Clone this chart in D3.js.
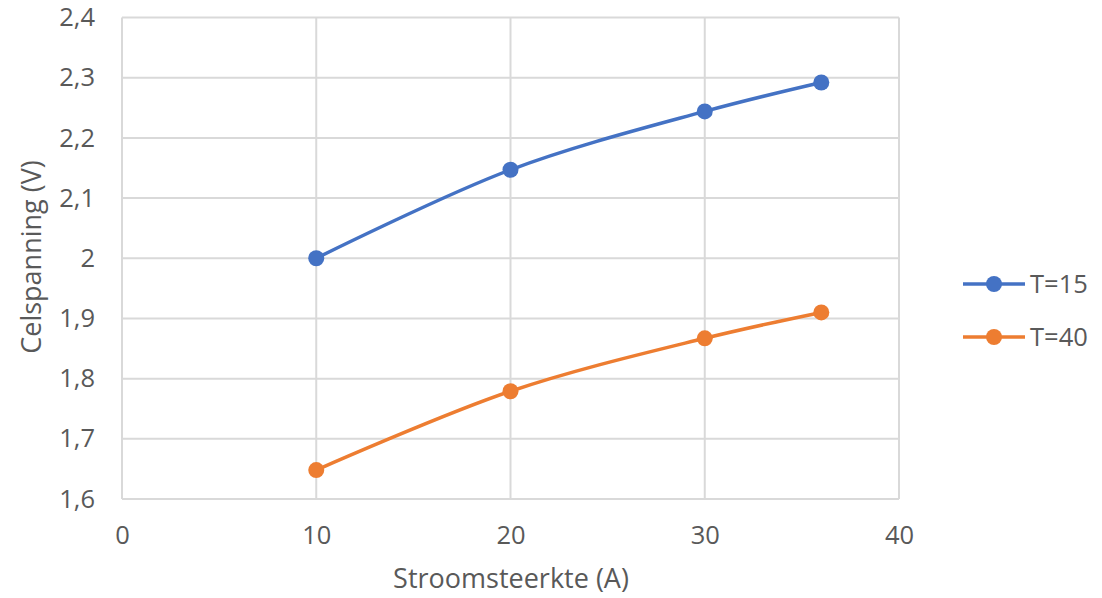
<!DOCTYPE html>
<html>
<head>
<meta charset="utf-8">
<script src="https://cdn.jsdelivr.net/npm/d3@7"></script>
<style>
  html, body { margin: 0; padding: 0; background: #fff; }
  svg text { font-family: "Open Sans", "Noto Sans", sans-serif; fill: #595959; }
</style>
</head>
<body>
<svg id="chart" width="1102" height="598"></svg>
<script>
const xValues = [10, 20, 30, 36];
const seriesNames = ["T=15", "T=40"];
const seriesT15 = [2.0, 2.147, 2.244, 2.292];
const seriesT40 = [1.648, 1.779, 1.867, 1.910];
const seriesColors = ["#4472C4", "#ED7D31"];
const xTicks = [0, 10, 20, 30, 40];
const yTicks = [1.6, 1.7, 1.8, 1.9, 2.0, 2.1, 2.2, 2.3, 2.4];
const xTitle = "Stroomsteerkte (A)";
const yTitle = "Celspanning (V)";

const svg = d3.select("#chart");
const plot = { left: 122, right: 899, top: 17.5, bottom: 499 };
const tickFont = 25.5;
const titleFont = 27;
const legendFont = 25.5;

const x = d3.scaleLinear().domain([0, 40]).range([plot.left, plot.right]);
const y = d3.scaleLinear().domain([1.6, 2.4]).range([plot.bottom, plot.top]);
const fmt = v => d3.format("~g")(+v.toFixed(1)).replace(".", ",");

// gridlines
const gridColor = "#d9d9d9";
svg.append("g").selectAll("line").data(yTicks).join("line")
  .attr("x1", plot.left).attr("x2", plot.right)
  .attr("y1", d => y(d)).attr("y2", d => y(d))
  .attr("stroke", gridColor).attr("stroke-width", 2);
svg.append("g").selectAll("line").data(xTicks).join("line")
  .attr("y1", plot.top).attr("y2", plot.bottom)
  .attr("x1", d => x(d)).attr("x2", d => x(d))
  .attr("stroke", gridColor).attr("stroke-width", 2);

// axes (labels only)
const yAxis = d3.axisLeft(y).tickValues(yTicks).tickSize(0).tickPadding(27).tickFormat(fmt);
const gy = svg.append("g").attr("transform", `translate(${plot.left},0)`).call(yAxis);
gy.select(".domain").remove();
gy.selectAll("text").attr("font-size", tickFont).style("font-family", null);

const xAxis = d3.axisBottom(x).tickValues(xTicks).tickSize(0).tickPadding(27).tickFormat(d3.format("d"));
const gx = svg.append("g").attr("transform", `translate(0,${plot.bottom})`).call(xAxis);
gx.select(".domain").remove();
gx.selectAll("text").attr("font-size", tickFont).style("font-family", null);

// axis titles
svg.append("text").attr("x", 511).attr("y", 588)
  .attr("text-anchor", "middle").attr("font-size", titleFont).text(xTitle);
svg.append("text").attr("transform", `translate(41,257) rotate(-90)`)
  .attr("text-anchor", "middle").attr("font-size", titleFont).text(yTitle);

// series
const allSeries = [seriesT15, seriesT40];
const line = d3.line().x((d, i) => x(xValues[i])).y(d => y(d)).curve(d3.curveCatmullRom.alpha(0.5));
allSeries.forEach((vals, si) => {
  svg.append("path").datum(vals).attr("d", line)
    .attr("fill", "none").attr("stroke", seriesColors[si]).attr("stroke-width", 3.5)
    .attr("stroke-linecap", "round");
  svg.append("g").selectAll("circle").data(vals).join("circle")
    .attr("cx", (d, i) => x(xValues[i])).attr("cy", d => y(d)).attr("r", 8)
    .attr("fill", seriesColors[si]);
});

// legend
const legendY = [284, 337];
seriesNames.forEach((name, si) => {
  const g = svg.append("g").attr("transform", `translate(0,${legendY[si]})`);
  g.append("line").attr("x1", 963).attr("x2", 1025).attr("y1", 0).attr("y2", 0)
    .attr("stroke", seriesColors[si]).attr("stroke-width", 3.5);
  g.append("circle").attr("cx", 994).attr("cy", 0).attr("r", 8).attr("fill", seriesColors[si]);
  g.append("text").attr("x", 1030).attr("y", 0).attr("dy", "0.35em")
    .attr("font-size", legendFont).text(name);
});
</script>
</body>
</html>
